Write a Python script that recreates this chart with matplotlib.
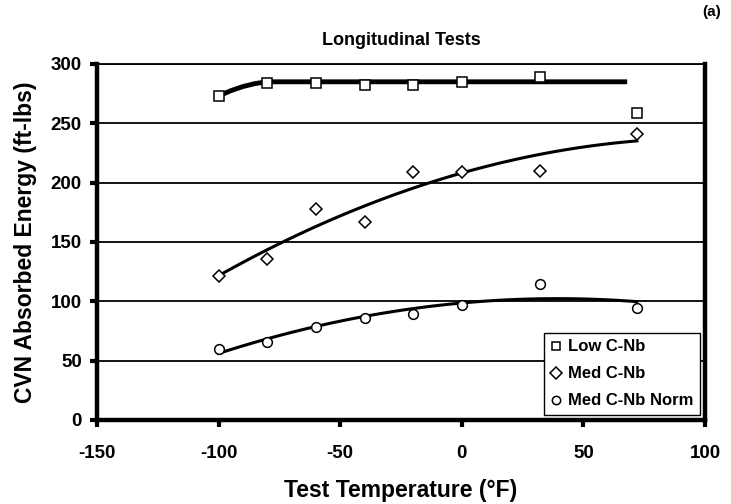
import numpy as np
import matplotlib
matplotlib.use("Agg")
import matplotlib.pyplot as plt

plt.rcParams['font.family'] = ['Liberation Sans', 'DejaVu Sans']
plt.rcParams['font.weight'] = 'bold'
plt.rcParams['axes.unicode_minus'] = False

temps = [-100, -80, -60, -40, -20, 0, 32, 72]
low_cnb = [273, 284, 284, 282, 282, 285, 289, 259]
med_cnb = [121, 136, 178, 167, 209, 209, 210, 241]
med_norm = [60, 66, 78, 86, 89, 97, 115, 94]

# trend curve for Low C-Nb
low_fit_x = [-100, -95, -90, -85, -80, 68]
low_fit_y = [273, 277.5, 281, 283.5, 285, 285]

x_ticks = [-150, -100, -50, 0, 50, 100]
y_ticks = [0, 50, 100, 150, 200, 250, 300]

fig = plt.figure(figsize=(7.31, 5.04), dpi=100)
ax = fig.add_axes([97/731, 84/504, 608/731, 356/504])

ax.set_xlim(-150, 100)
ax.set_ylim(0, 300)

for yv in y_ticks[1:]:
    ax.axhline(yv, color='black', lw=1.3, zorder=1)

# trend lines
ax.plot(low_fit_x, low_fit_y, color='black', lw=3.5, zorder=2, solid_capstyle='butt')
xs = np.linspace(-100, 72, 100)
c_med = np.polyfit(temps, med_cnb, 2)
ax.plot(xs, np.polyval(c_med, xs), color='black', lw=2.2, zorder=2)
c_norm = np.polyfit(temps, med_norm, 2)
ax.plot(xs, np.polyval(c_norm, xs), color='black', lw=2.2, zorder=2)

mk = dict(linestyle='none', markerfacecolor='white', markeredgecolor='black',
          markeredgewidth=1.1, zorder=3)
ax.plot(temps, low_cnb, marker='s', markersize=6.5, label='Low C-Nb', **mk)
ax.plot(temps, med_cnb, marker='D', markersize=6, label='Med C-Nb', **mk)
ax.plot(temps, med_norm, marker='o', markersize=7, label='Med C-Nb Norm', **mk)

ax.set_xticks(x_ticks)
ax.set_yticks(y_ticks)
ax.tick_params(axis='both', labelsize=13.5, width=3, length=5, direction='out')
ax.tick_params(axis='x', pad=13)
ax.tick_params(axis='y', pad=6)
for lab in ax.get_xticklabels() + ax.get_yticklabels():
    lab.set_fontweight('bold')

for s in ['left', 'bottom', 'right']:
    ax.spines[s].set_linewidth(3.2)
ax.spines['top'].set_linewidth(1.3)

ax.set_xlabel('Test Temperature (°F)', fontsize=16.5, fontweight='bold', labelpad=12)
ax.set_ylabel('CVN Absorbed Energy (ft-lbs)', fontsize=16.5, fontweight='bold', labelpad=10)
ax.set_title('Longitudinal Tests', fontsize=13, fontweight='bold', pad=14)
fig.text(712/731, 1 - 12/504, '(a)', fontsize=11, fontweight='bold', ha='center', va='center')

leg = ax.legend(loc='lower right', bbox_to_anchor=(603/608, 5/356), fontsize=12,
                frameon=True, fancybox=False, edgecolor='black', framealpha=1,
                handlelength=0.7, handletextpad=0.35, borderpad=0.4, labelspacing=0.72,
                borderaxespad=0)
leg.get_frame().set_linewidth(1.0)
leg.set_zorder(5)
for t in leg.get_texts():
    t.set_fontweight('bold')
for h in leg.legend_handles:
    h.set_markersize(6)

fig.savefig('out.png', dpi=100)
